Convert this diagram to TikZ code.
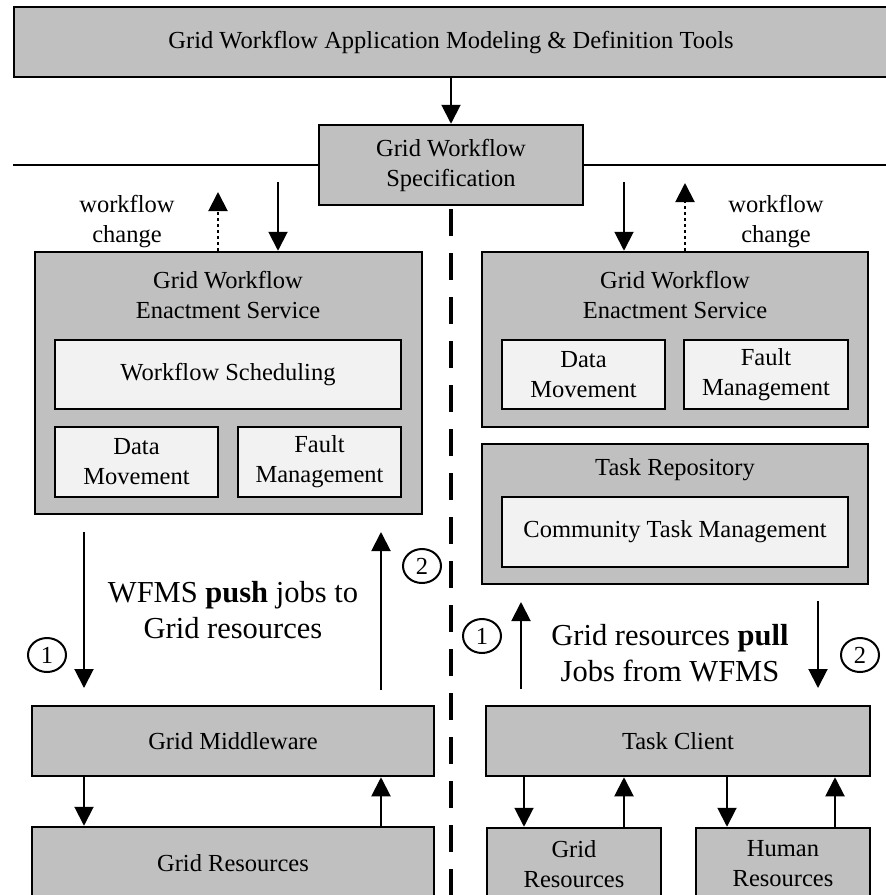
\documentclass[tikz,border=0pt]{standalone}
\usepackage{fontspec}
\setmainfont{Liberation Serif}
\usetikzlibrary{arrows.meta,fit,shapes.geometric}
\definecolor{boxgray}{RGB}{192,192,192}
\definecolor{innergray}{RGB}{242,242,242}
\newcommand\lblfont{\fontsize{24.5}{30}\selectfont}
\newcommand\bigfont{\fontsize{30.5}{36}\selectfont}
\begin{document}
\begin{tikzpicture}[x=1pt,y=-1pt,
  outerbox/.style={draw, line width=2.5pt, fill=boxgray, inner sep=0pt},
  innerbox/.style={draw, line width=2.5pt, fill=innergray, inner sep=0pt},
  lbl/.style={font=\lblfont, align=center, inner sep=0pt},
  biglbl/.style={font=\bigfont, align=center, inner sep=0pt},
  arr/.style={line width=2pt, -{Triangle[length=19pt,width=19pt]}},
  dotarr/.style={line width=2pt, dash pattern=on 3pt off 3pt, -{Triangle[length=19pt,width=19pt]}},
  numc/.style={ellipse, draw, line width=2pt, minimum width=38pt, minimum height=34pt, inner sep=0pt, font=\lblfont},
  sepline/.style={line width=2pt},
  divider/.style={line width=3.3pt, dash pattern=on 27pt off 17pt}
]
\path[use as bounding box, clip] (0,0) rectangle (886,895);

% top level tool box and specification
\node[outerbox, fit={(14,7) (910,77)}] (tools) {};
\node[lbl] (toolsT) at (451,43) {Grid Workflow Application Modeling \& Definition Tools};
\node[outerbox, fit={(319,125) (583,205)}] (spec) {};
\node[lbl] (specT) at (spec.center) {Grid Workflow\\Specification};
\draw[arr] (spec.north |- tools.south) -- (spec.north);

% horizontal separator and vertical dashed divider
\coordinate (hl) at (13,165);
\coordinate (hr) at (886,165);
\draw[sepline] (hl) -- (hl -| spec.west);
\draw[sepline] (spec.east |- hr) -- (hr);
\coordinate (divEnd) at (451,900);
\draw[divider] (spec.south) ++(0,3) -- (divEnd);

% ---------- left side: push model ----------
\node[outerbox, fit={(35,252) (422,514)}] (lenact) {};
\node[lbl] (lenactT) at (228,295) {Grid Workflow\\Enactment Service};
\node[innerbox, fit={(55,340) (401,409)}] (lsched) {};
\node[lbl] (lschedT) at (lsched.center) {Workflow Scheduling};
\node[innerbox, fit={(55,427) (218,497)}] (ldata) {};
\node[lbl] (ldataT) at (ldata.center) {Data\\Movement};
\node[innerbox, fit={(238,427) (401,497)}] (lfault) {};
\node[lbl] (lfaultT) at (lfault.center) {Fault\\Management};

\node[lbl] (lchange) at (127,222) {workflow\\change};
\coordinate (lspecIn) at (278,182);
\coordinate (lchgOut) at (218,192);
\draw[arr] (lspecIn) -- (lspecIn |- lenact.north);
\draw[dotarr] (lchgOut |- lenact.north) -- (lchgOut);

\node[outerbox, fit={(32,706) (434,776)}] (mw) {};
\node[lbl] (mwT) at (mw.center) {Grid Middleware};
\node[outerbox, fit={(32,827) (434,960)}] (lres) {};
\node[lbl] (lresT) at (233,863) {Grid Resources};

\coordinate (lpushA) at (84,532);
\coordinate (lpushB) at (84,688);
\coordinate (lretA) at (381,690);
\coordinate (lretB) at (381,532);
\draw[arr] (lpushA) -- (lpushB);
\draw[arr] (lretA) -- (lretB);
\node[numc] (lc1) at (47,655) {1};
\node[numc] (lc2) at (422,566) {2};
\node[biglbl] (lpush) at (233,610) {WFMS \textbf{push} jobs to\\Grid resources};

\draw[arr] (84,0 |- mw.south) -- (84,0 |- lres.north);
\draw[arr] (381,0 |- lres.north) -- (381,0 |- mw.south);

% ---------- right side: pull model ----------
\node[outerbox, fit={(482,252) (868,427)}] (renact) {};
\node[lbl] (renactT) at (675,295) {Grid Workflow\\Enactment Service};
\node[innerbox, fit={(502,340) (665,409)}] (rdata) {};
\node[lbl] (rdataT) at (rdata.center) {Data\\Movement};
\node[innerbox, fit={(684,340) (848,409)}] (rfault) {};
\node[lbl] (rfaultT) at (rfault.center) {Fault\\Management};

\node[lbl] (rchange) at (776,222) {workflow\\change};
\coordinate (rspecIn) at (624,182);
\coordinate (rchgOut) at (685,183);
\draw[arr] (rspecIn) -- (rspecIn |- renact.north);
\draw[dotarr] (rchgOut |- renact.north) -- (rchgOut);

\node[outerbox, fit={(482,444) (868,584)}] (repo) {};
\node[lbl] (repoT) at (675,470) {Task Repository};
\node[innerbox, fit={(502,497) (848,567)}] (ctm) {};
\node[lbl] (ctmT) at (ctm.center) {Community Task Management};

\coordinate (rpullA) at (521,689);
\coordinate (rpullB) at (521,602);
\coordinate (rjobA) at (818,601);
\coordinate (rjobB) at (818,688);
\draw[arr] (rpullA) -- (rpullB);
\draw[arr] (rjobA) -- (rjobB);
\node[numc] (rc1) at (482,636) {1};
\node[numc] (rc2) at (860,655) {2};
\node[biglbl] (rpull) at (670,653) {Grid resources \textbf{pull}\\Jobs from WFMS};

\node[outerbox, fit={(486,706) (870,776)}] (client) {};
\node[lbl] (clientT) at (client.center) {Task Client};
\node[outerbox, fit={(487,828) (661,960)}] (rgrid) {};
\node[lbl] (rgridT) at (574,864) {Grid\\Resources};
\node[outerbox, fit={(696,828) (870,960)}] (rhuman) {};
\node[lbl] (rhumanT) at (783,864) {Human\\Resources};

\draw[arr] (524,0 |- client.south) -- (524,0 |- rgrid.north);
\draw[arr] (624,0 |- rgrid.north) -- (624,0 |- client.south);
\draw[arr] (727,0 |- client.south) -- (727,0 |- rhuman.north);
\draw[arr] (835,0 |- rhuman.north) -- (835,0 |- client.south);
\end{tikzpicture}
\end{document}
